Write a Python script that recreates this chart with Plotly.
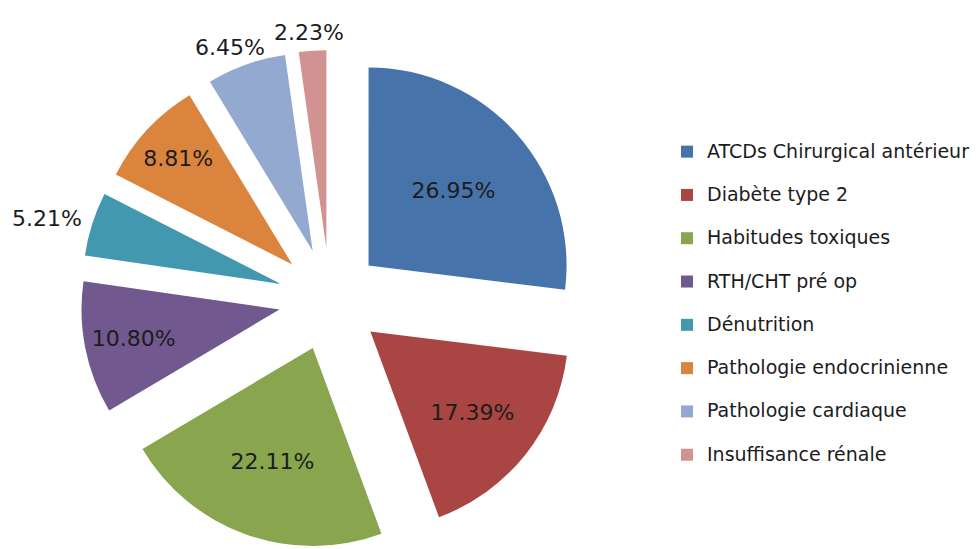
import math
import plotly.graph_objects as go

# Antécédents / facteurs de risque (% des patients)
labels = [
    "ATCDs Chirurgical antérieur",
    "Diabète type 2",
    "Habitudes toxiques",
    "RTH/CHT pré op",
    "Dénutrition",
    "Pathologie endocrinienne",
    "Pathologie cardiaque",
    "Insuffisance rénale",
]
values = [26.95, 17.39, 22.11, 10.80, 5.21, 8.81, 6.45, 2.23]
colors = ["#4673A9", "#A94643", "#89A54E", "#71588F",
          "#4298AF", "#DB843D", "#93A9CF", "#D19392"]
# slices whose percentage is written beside the pie instead of inside it
outside = [False, False, False, False, True, False, True, True]

W, H = 978, 549
FONT = "DejaVu Sans"
TEXT_COLOR = "#1c1c1c"
PCT_SIZE = 22
LEGEND_SIZE = 15.5
LEGEND_TEXT_SIZE = 19
PULL = 0.26
DOM_X = [0.0823, 0.5925]
DOM_Y = [0.0, 0.9089]

fig = go.Figure(
    go.Pie(
        labels=labels,
        values=values,
        sort=False,
        direction="clockwise",
        rotation=0,
        pull=[PULL] * len(values),
        marker=dict(colors=colors, line=dict(width=0)),
        texttemplate="%{value:.2f}%",
        textposition=["none" if o else "inside" for o in outside],
        insidetextorientation="horizontal",
        textfont=dict(family=FONT, size=PCT_SIZE, color=TEXT_COLOR),
        hovertemplate="%{label}: %{value:.2f}%<extra></extra>",
        domain=dict(x=DOM_X, y=DOM_Y),
    )
)

# Percentages of the thin slices, set just past the outer edge of each slice.
cx = (DOM_X[0] + DOM_X[1]) / 2 * W
cy = (1 - (DOM_Y[0] + DOM_Y[1]) / 2) * H
r = min((DOM_X[1] - DOM_X[0]) * W, (DOM_Y[1] - DOM_Y[0]) * H) / 2 / (1 + PULL)
total = sum(values)
half_w, half_h, gap = 1.9 * PCT_SIZE, 0.55 * PCT_SIZE, 6
annotations = []
cum = 0.0
for v, o in zip(values, outside):
    mid = math.radians((cum + v / 2) / total * 360)
    cum += v
    if not o:
        continue
    s, c = math.sin(mid), math.cos(mid)
    dist = r * (1 + PULL) + gap
    px = cx + dist * s + half_w * s
    py = cy - dist * c - half_h * c
    annotations.append(dict(
        x=px / W, y=1 - py / H, xref="paper", yref="paper",
        text=f"{v:.2f}%", showarrow=False, xanchor="center", yanchor="middle",
        font=dict(family=FONT, size=PCT_SIZE, color=TEXT_COLOR),
    ))

# legend entries: larger glyphs, with a blank second line for wider row spacing
fig.update_traces(
    labels=[f"<span style='font-size:{LEGEND_TEXT_SIZE}px'>{lab}</span><br> " for lab in labels]
)

fig.update_layout(
    width=W,
    height=H,
    margin=dict(l=0, r=0, t=0, b=0),
    paper_bgcolor="white",
    plot_bgcolor="white",
    showlegend=True,
    uniformtext=dict(mode="show", minsize=PCT_SIZE),
    legend=dict(
        x=0.682,
        y=0.754,
        xanchor="left",
        yanchor="top",
        valign="top",
        font=dict(family=FONT, size=LEGEND_SIZE, color=TEXT_COLOR),
        bgcolor="rgba(0,0,0,0)",
    ),
    annotations=annotations,
)

fig.write_html("out.html")
